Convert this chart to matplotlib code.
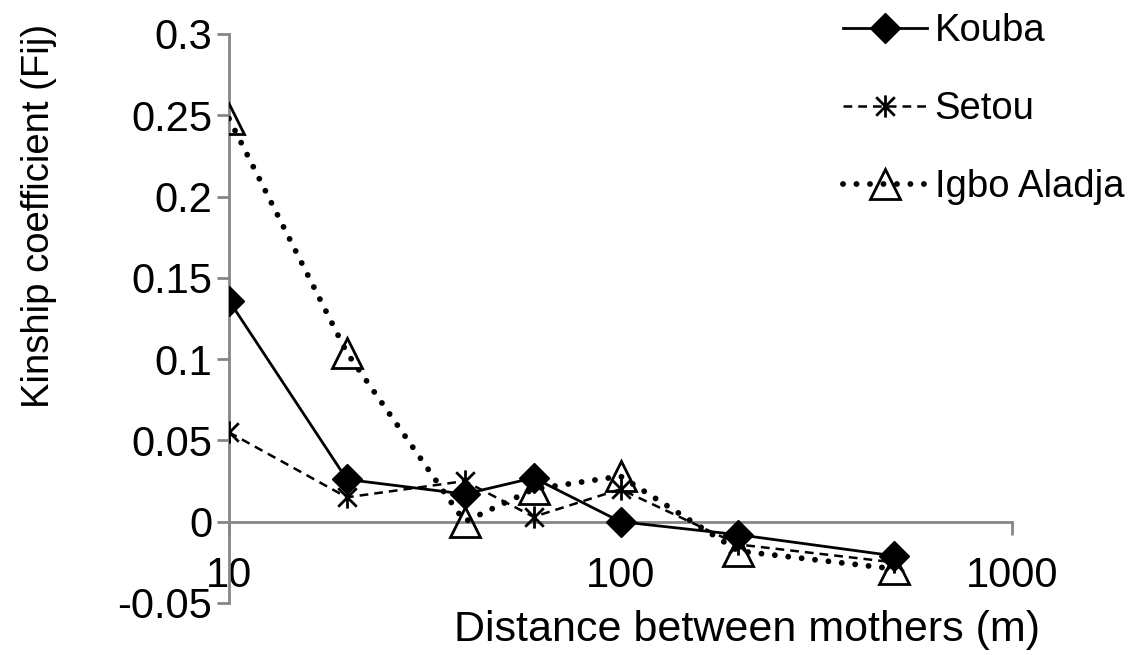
import numpy as np
import matplotlib
matplotlib.use("Agg")
import matplotlib.pyplot as plt
from matplotlib.path import Path as MPath

plt.rcParams["font.family"] = ["Liberation Sans", "DejaVu Sans"]

# distance classes (m)
distance = [10, 20, 40, 60, 100, 200, 500]

# kinship coefficient per site
kouba = [0.136, 0.026, 0.017, 0.027, 0.0, -0.008, -0.021]
setou = [0.055, 0.015, 0.025, 0.003, 0.020, -0.014, -0.025]
igbo_aladja = [0.248, 0.104, 0.000, 0.020, 0.028, -0.018, -0.029]

y_ticks = [-0.05, 0, 0.05, 0.1, 0.15, 0.2, 0.25, 0.3]
y_ticklabels = ["-0.05", "0", "0.05", "0.1", "0.15", "0.2", "0.25", "0.3"]
x_ticks = [10, 100, 1000]
x_ticklabels = ["10", "100", "1000"]

# Excel-style star: an X with a vertical bar through it
star = MPath(
    [(-0.5, -0.5), (0.5, 0.5), (-0.5, 0.5), (0.5, -0.5), (0, -0.6), (0, 0.6)],
    [MPath.MOVETO, MPath.LINETO, MPath.MOVETO, MPath.LINETO, MPath.MOVETO, MPath.LINETO],
)

fig = plt.figure(figsize=(11.32, 6.55), dpi=100)
ax = fig.add_axes([229 / 1132, 52 / 655, 783 / 1132, 569 / 655])

ax.plot(distance, igbo_aladja, color="black", lw=4.2,
        linestyle=(0, (0.01, 2.3)), dash_capstyle="round",
        marker="^", markersize=21, markerfacecolor="none",
        markeredgecolor="black", markeredgewidth=2, label="Igbo Aladja", zorder=3)
ax.plot(distance, setou, color="black", lw=1.8, linestyle=(0, (3.5, 2.4)),
        marker=star, markersize=16, markeredgewidth=2, label="Setou", zorder=4)
ax.plot(distance, kouba, color="black", lw=2, linestyle="-",
        marker="D", markersize=15, markerfacecolor="black", label="Kouba", zorder=5)

ax.set_xscale("log")
ax.set_xlim(10, 1000)
ax.set_ylim(-0.05, 0.3)
ax.set_xticks(x_ticks)
ax.set_xticklabels(x_ticklabels)
ax.minorticks_off()
ax.set_yticks(y_ticks)
ax.set_yticklabels(y_ticklabels)

axis_grey = "#868686"
for side in ["top", "right"]:
    ax.spines[side].set_visible(False)
ax.spines["bottom"].set_position(("data", 0))
for side in ["left", "bottom"]:
    ax.spines[side].set_color(axis_grey)
    ax.spines[side].set_linewidth(2)

ax.tick_params(axis="both", direction="out", color=axis_grey, width=2,
               length=9, labelsize=30, labelcolor="black")
ax.tick_params(axis="y", pad=3)
ax.tick_params(axis="x", pad=16)

ax.set_xlabel("Distance between mothers (m)", fontsize=31)
ax.xaxis.set_label_coords(0.661, -0.047)
ax.xaxis.label.set_va("center")
ax.set_ylabel("Kinship coefficient (Fij)", fontsize=27.5)
ax.yaxis.set_label_coords(-0.243, 0.68)
ax.yaxis.label.set_va("center")

handles, labels = ax.get_legend_handles_labels()
order = [2, 1, 0]
fig.legend([handles[i] for i in order], [labels[i] for i in order],
           loc="upper left", bbox_to_anchor=(843 / 1132, 1 - 13 / 655),
           frameon=False, fontsize=27.5, handlelength=2.2,
           handletextpad=0.2, labelspacing=1.1, borderaxespad=0, borderpad=0)

fig.savefig("out.png", dpi=100)
plt.close(fig)
